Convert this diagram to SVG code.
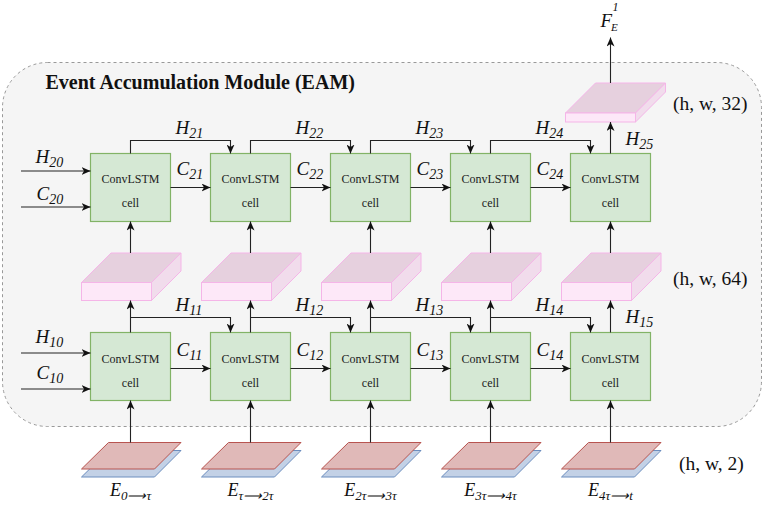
<svg xmlns="http://www.w3.org/2000/svg" width="763" height="508" viewBox="0 0 763 508">
<defs>
<marker id="ah" markerUnits="userSpaceOnUse" markerWidth="10" markerHeight="8" refX="9" refY="4" orient="auto">
<path d="M0,0 L9,4 L0,8 L2.5,4 Z" fill="#111"/>
</marker>
<style>
.cell{fill:#d5e8d4;stroke:#82b366;stroke-width:1.2}
.ct{font-family:"Liberation Serif",serif;font-size:12px;fill:#222;text-anchor:middle}
.lab{font-family:"Liberation Serif",serif;font-style:italic;font-size:19px;fill:#111}
.sub{font-size:14px}
.el{font-family:"Liberation Serif",serif;font-style:italic;font-size:18px;fill:#111;text-anchor:middle}
.esub{font-size:13px}
.dim{font-family:"Liberation Serif",serif;font-size:19.5px;fill:#111}
.title{font-family:"Liberation Serif",serif;font-weight:bold;font-size:20px;fill:#111}
.top{fill:#e6d0de;stroke:#f5b5e8;stroke-width:1}
.front{fill:#fde8f8;stroke:#f5b5e8;stroke-width:1}
.side{fill:#f1dcec;stroke:#f5b5e8;stroke-width:1}
.red{fill:#e0b9b8;stroke:#b85450;stroke-width:1}
.blue{fill:#c3d1e6;stroke:#6c8ebf;stroke-width:1}
.con{fill:none;stroke:#222;stroke-width:1.1;marker-end:url(#ah)}
</style>
</defs>
<g id="eam">
<rect x="2.5" y="62.5" width="759" height="364" rx="45" ry="45" fill="#f5f5f5" stroke="#999" stroke-dasharray="3,3"/>
<text class="title" x="45.5" y="89">Event Accumulation Module (EAM)</text>
</g>
<g id="events">
<g id="ev-1"><polygon class="blue" points="81.5,477 108.5,450.5 181,450.5 154.5,477"/><polygon class="red" points="81.5,469 108.5,442.5 181,442.5 154.5,469"/></g>
<g id="ev-2"><polygon class="blue" points="201.5,477 228.5,450.5 301,450.5 274.5,477"/><polygon class="red" points="201.5,469 228.5,442.5 301,442.5 274.5,469"/></g>
<g id="ev-3"><polygon class="blue" points="321.5,477 348.5,450.5 421,450.5 394.5,477"/><polygon class="red" points="321.5,469 348.5,442.5 421,442.5 394.5,469"/></g>
<g id="ev-4"><polygon class="blue" points="441.5,477 468.5,450.5 541,450.5 514.5,477"/><polygon class="red" points="441.5,469 468.5,442.5 541,442.5 514.5,469"/></g>
<g id="ev-5"><polygon class="blue" points="561.5,477 588.5,450.5 661,450.5 634.5,477"/><polygon class="red" points="561.5,469 588.5,442.5 661,442.5 634.5,469"/></g>
</g>
<g id="feat64">
<g id="f64-1"><polygon class="top" points="81.5,282.5 111,253 181,253 151.5,282.5"/><polygon class="side" points="151.5,282.5 181,253 181,271 151.5,300.5"/><rect class="front" x="81.5" y="282.5" width="70" height="18"/></g>
<g id="f64-2"><polygon class="top" points="201.5,282.5 231,253 301,253 271.5,282.5"/><polygon class="side" points="271.5,282.5 301,253 301,271 271.5,300.5"/><rect class="front" x="201.5" y="282.5" width="70" height="18"/></g>
<g id="f64-3"><polygon class="top" points="321.5,282.5 351,253 421,253 391.5,282.5"/><polygon class="side" points="391.5,282.5 421,253 421,271 391.5,300.5"/><rect class="front" x="321.5" y="282.5" width="70" height="18"/></g>
<g id="f64-4"><polygon class="top" points="441.5,282.5 471,253 541,253 511.5,282.5"/><polygon class="side" points="511.5,282.5 541,253 541,271 511.5,300.5"/><rect class="front" x="441.5" y="282.5" width="70" height="18"/></g>
<g id="f64-5"><polygon class="top" points="561.5,282.5 591,253 661,253 631.5,282.5"/><polygon class="side" points="631.5,282.5 661,253 661,271 631.5,300.5"/><rect class="front" x="561.5" y="282.5" width="70" height="18"/></g>
</g>
<g id="feat32"><polygon class="top" points="565.5,113 595.5,83 665.5,83 635.5,113"/><polygon class="side" points="635.5,113 665.5,83 665.5,92 635.5,122"/><rect class="front" x="565.5" y="113" width="70" height="9"/></g>
<g id="cells-top">
<g id="c21"><rect class="cell" x="90.5" y="153.5" width="80" height="68"/><text class="ct" x="130.5" y="183">ConvLSTM</text><text class="ct" x="130.5" y="207">cell</text></g>
<g id="c22"><rect class="cell" x="210.5" y="153.5" width="80" height="68"/><text class="ct" x="250.5" y="183">ConvLSTM</text><text class="ct" x="250.5" y="207">cell</text></g>
<g id="c23"><rect class="cell" x="330.5" y="153.5" width="80" height="68"/><text class="ct" x="370.5" y="183">ConvLSTM</text><text class="ct" x="370.5" y="207">cell</text></g>
<g id="c24"><rect class="cell" x="450.5" y="153.5" width="80" height="68"/><text class="ct" x="490.5" y="183">ConvLSTM</text><text class="ct" x="490.5" y="207">cell</text></g>
<g id="c25"><rect class="cell" x="570.5" y="153.5" width="80" height="68"/><text class="ct" x="610.5" y="183">ConvLSTM</text><text class="ct" x="610.5" y="207">cell</text></g>
</g>
<g id="cells-bottom">
<g id="c11"><rect class="cell" x="90.5" y="332.5" width="80" height="68"/><text class="ct" x="130.5" y="362.5">ConvLSTM</text><text class="ct" x="130.5" y="387">cell</text></g>
<g id="c12"><rect class="cell" x="210.5" y="332.5" width="80" height="68"/><text class="ct" x="250.5" y="362.5">ConvLSTM</text><text class="ct" x="250.5" y="387">cell</text></g>
<g id="c13"><rect class="cell" x="330.5" y="332.5" width="80" height="68"/><text class="ct" x="370.5" y="362.5">ConvLSTM</text><text class="ct" x="370.5" y="387">cell</text></g>
<g id="c14"><rect class="cell" x="450.5" y="332.5" width="80" height="68"/><text class="ct" x="490.5" y="362.5">ConvLSTM</text><text class="ct" x="490.5" y="387">cell</text></g>
<g id="c15"><rect class="cell" x="570.5" y="332.5" width="80" height="68"/><text class="ct" x="610.5" y="362.5">ConvLSTM</text><text class="ct" x="610.5" y="387">cell</text></g>
</g>
<g id="connectors">
<path class="con" d="M21,171 H90.5"/>
<path class="con" d="M21,207 H90.5"/>
<path class="con" d="M170.5,187.5 H210.5"/>
<path class="con" d="M290.5,187.5 H330.5"/>
<path class="con" d="M410.5,187.5 H450.5"/>
<path class="con" d="M530.5,187.5 H570.5"/>
<path class="con" d="M130.5,153.5 V140.5 H230.5 V153.5"/>
<path class="con" d="M250.5,153.5 V140.5 H350.5 V153.5"/>
<path class="con" d="M370.5,153.5 V140.5 H470.5 V153.5"/>
<path class="con" d="M490.5,153.5 V140.5 H590.5 V153.5"/>
<path class="con" d="M130.5,253 V221.5"/>
<path class="con" d="M250.5,253 V221.5"/>
<path class="con" d="M370.5,253 V221.5"/>
<path class="con" d="M490.5,253 V221.5"/>
<path class="con" d="M610.5,253 V221.5"/>
<path class="con" d="M610.5,153.5 V122"/>
<path class="con" d="M610.5,83 V37.5"/>
<path class="con" d="M21,353 H90.5"/>
<path class="con" d="M21,389 H90.5"/>
<path class="con" d="M170.5,368.5 H210.5"/>
<path class="con" d="M290.5,368.5 H330.5"/>
<path class="con" d="M410.5,368.5 H450.5"/>
<path class="con" d="M530.5,368.5 H570.5"/>
<path class="con" d="M130.5,332.5 V300.5"/>
<path class="con" d="M250.5,332.5 V300.5"/>
<path class="con" d="M370.5,332.5 V300.5"/>
<path class="con" d="M490.5,332.5 V300.5"/>
<path class="con" d="M610.5,332.5 V300.5"/>
<path class="con" d="M130.5,317.5 H230.5 V332.5"/>
<path class="con" d="M250.5,317.5 H350.5 V332.5"/>
<path class="con" d="M370.5,317.5 H470.5 V332.5"/>
<path class="con" d="M490.5,317.5 H590.5 V332.5"/>
<path class="con" d="M130.5,442.5 V400.5"/>
<path class="con" d="M250.5,442.5 V400.5"/>
<path class="con" d="M370.5,442.5 V400.5"/>
<path class="con" d="M490.5,442.5 V400.5"/>
<path class="con" d="M610.5,442.5 V400.5"/>
</g>
<g id="labels">
<text class="lab" x="35.5" y="162.5">H<tspan class="sub" dy="4">20</tspan></text>
<text class="lab" x="36.5" y="199.5">C<tspan class="sub" dy="4">20</tspan></text>
<text class="lab" x="35.5" y="343">H<tspan class="sub" dy="4">10</tspan></text>
<text class="lab" x="36.5" y="378.5">C<tspan class="sub" dy="4">10</tspan></text>
<text class="lab" x="175.5" y="133.5">H<tspan class="sub" dy="4">21</tspan></text>
<text class="lab" x="295.5" y="133.5">H<tspan class="sub" dy="4">22</tspan></text>
<text class="lab" x="415.5" y="133.5">H<tspan class="sub" dy="4">23</tspan></text>
<text class="lab" x="535.5" y="133.5">H<tspan class="sub" dy="4">24</tspan></text>
<text class="lab" x="625.5" y="145">H<tspan class="sub" dy="4">25</tspan></text>
<text class="lab" x="176.5" y="175">C<tspan class="sub" dy="4">21</tspan></text>
<text class="lab" x="296.5" y="175">C<tspan class="sub" dy="4">22</tspan></text>
<text class="lab" x="416.5" y="175">C<tspan class="sub" dy="4">23</tspan></text>
<text class="lab" x="536.5" y="175">C<tspan class="sub" dy="4">24</tspan></text>
<text class="lab" x="175.5" y="311">H<tspan class="sub" dy="4">11</tspan></text>
<text class="lab" x="295.5" y="311">H<tspan class="sub" dy="4">12</tspan></text>
<text class="lab" x="415.5" y="311">H<tspan class="sub" dy="4">13</tspan></text>
<text class="lab" x="535.5" y="311">H<tspan class="sub" dy="4">14</tspan></text>
<text class="lab" x="625.5" y="322.5">H<tspan class="sub" dy="4">15</tspan></text>
<text class="lab" x="176.5" y="356">C<tspan class="sub" dy="4">11</tspan></text>
<text class="lab" x="296.5" y="356">C<tspan class="sub" dy="4">12</tspan></text>
<text class="lab" x="416.5" y="356">C<tspan class="sub" dy="4">13</tspan></text>
<text class="lab" x="536.5" y="356">C<tspan class="sub" dy="4">14</tspan></text>
<text class="el" x="130.5" y="496">E<tspan class="esub" dy="4">0⟶τ</tspan></text>
<text class="el" x="250.5" y="496">E<tspan class="esub" dy="4">τ⟶2τ</tspan></text>
<text class="el" x="370.5" y="496">E<tspan class="esub" dy="4">2τ⟶3τ</tspan></text>
<text class="el" x="490.5" y="496">E<tspan class="esub" dy="4">3τ⟶4τ</tspan></text>
<text class="el" x="610.5" y="496">E<tspan class="esub" dy="4">4τ⟶t</tspan></text>
<text class="lab" x="600.5" y="26.5">F</text>
<text class="lab" x="611" y="30.5" style="font-size:11px">E</text>
<text class="lab" x="612.5" y="11" style="font-size:12px">1</text>
<text class="dim" x="673" y="110">(h, w, 32)</text>
<text class="dim" x="673" y="285">(h, w, 64)</text>
<text class="dim" x="679" y="470">(h, w, 2)</text>
</g>
</svg>
